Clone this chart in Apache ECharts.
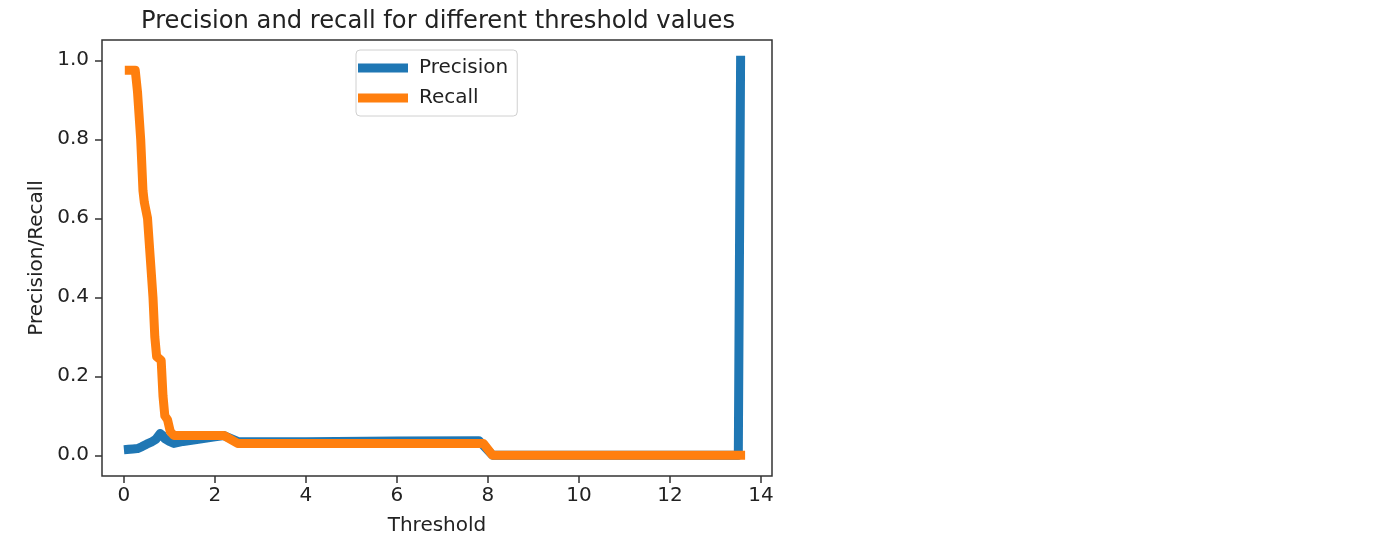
<!DOCTYPE html>
<html>
<head>
<meta charset="utf-8">
<script src="https://cdn.jsdelivr.net/npm/echarts@6/dist/echarts.min.js"></script>
<style>
html,body{margin:0;padding:0;background:#fff;}
#chart{width:1384px;height:550px;}
</style>
</head>
<body>
<div id="chart"></div>
<script>
// Data
const precisionX = [0.1, 0.2, 0.3, 0.4, 0.5, 0.6, 0.7, 0.8, 0.85, 0.9, 1.0, 1.1, 1.3, 1.6, 2.0, 2.2, 2.5, 4.0, 6.0, 7.8, 8.1, 13.5, 13.55];
const precisionY = [0.015, 0.016, 0.017, 0.022, 0.028, 0.033, 0.04, 0.055, 0.05, 0.042, 0.035, 0.03, 0.035, 0.04, 0.047, 0.05, 0.035, 0.034, 0.036, 0.037, 0.0, 0.0, 1.0];
const recallX = [0.12, 0.25, 0.3, 0.37, 0.42, 0.45, 0.52, 0.58, 0.64, 0.68, 0.72, 0.82, 0.86, 0.9, 0.96, 1.02, 1.1, 2.2, 2.5, 7.9, 8.1, 13.55];
const recallY = [0.975, 0.975, 0.92, 0.8, 0.67, 0.64, 0.6, 0.5, 0.4, 0.3, 0.25, 0.24, 0.15, 0.1, 0.09, 0.06, 0.05, 0.05, 0.03, 0.03, 0.0, 0.0];
const xTicks = [0, 2, 4, 6, 8, 10, 12, 14];
const yTicks = [0.0, 0.2, 0.4, 0.6, 0.8, 1.0];
const seriesNames = ['Precision', 'Recall'];
const colors = ['#1f77b4', '#ff7f0e'];
const titleText = 'Precision and recall for different threshold values';
const xName = 'Threshold';
const yName = 'Precision/Recall';

const zip = (xs, ys) => xs.map((x, i) => [x, ys[i]]);
const FONT = 'DejaVu Sans';
const TXT = '#222';

const chart = echarts.init(document.getElementById('chart'), null, {renderer: 'canvas'});
chart.setOption({
  animation: false,
  backgroundColor: '#fff',
  title: {
    text: titleText,
    left: 433,
    top: 5,
    textAlign: 'center',
    textStyle: {fontFamily: FONT, fontSize: 24.2, fontWeight: 'normal', color: TXT}
  },
  legend: {
    orient: 'vertical',
    left: 356,
    top: 50,
    padding: [7, 9, 7, 2],
    itemGap: 8,
    itemWidth: 50,
    itemHeight: 9,
    icon: 'rect',
    backgroundColor: '#fff',
    borderColor: '#d0d0d0',
    borderWidth: 1,
    borderRadius: 4,
    textStyle: {fontFamily: FONT, fontSize: 20, color: TXT, lineHeight: 22, padding: [0, 0, 0, 6]},
    data: seriesNames
  },
  grid: {
    left: 102, top: 40, width: 670, height: 436,
    show: true, borderColor: '#333', borderWidth: 1.5, backgroundColor: 'transparent'
  },
  xAxis: {
    type: 'value',
    min: -0.48, max: 14.24,
    splitLine: {show: false},
    axisLine: {show: false, onZero: false},
    axisTick: {show: true, inside: false, length: 7, lineStyle: {color: '#333', width: 1.5}, customValues: xTicks},
    axisLabel: {fontFamily: FONT, fontSize: 20, color: TXT, margin: 10, customValues: xTicks, formatter: v => String(v)},
    name: xName,
    nameLocation: 'middle',
    nameGap: 40,
    nameTextStyle: {fontFamily: FONT, fontSize: 20, color: TXT}
  },
  yAxis: {
    type: 'value',
    min: -0.0525, max: 1.0513,
    splitLine: {show: false},
    axisLine: {show: false, onZero: false},
    axisTick: {show: true, inside: false, length: 7, lineStyle: {color: '#333', width: 1.5}, customValues: yTicks},
    axisLabel: {fontFamily: FONT, fontSize: 20, color: TXT, margin: 13, customValues: yTicks, formatter: v => v.toFixed(1)},
    name: yName,
    nameLocation: 'middle',
    nameGap: 55,
    nameTextStyle: {fontFamily: FONT, fontSize: 20, color: TXT}
  },
  series: [
    {
      name: seriesNames[0], type: 'line', data: zip(precisionX, precisionY),
      showSymbol: false, symbol: 'none', color: colors[0],
      lineStyle: {width: 9, color: colors[0], cap: 'square', join: 'round'}
    },
    {
      name: seriesNames[1], type: 'line', data: zip(recallX, recallY),
      showSymbol: false, symbol: 'none', color: colors[1],
      lineStyle: {width: 9, color: colors[1], cap: 'square', join: 'round'}
    }
  ]
});
</script>
</body>
</html>
